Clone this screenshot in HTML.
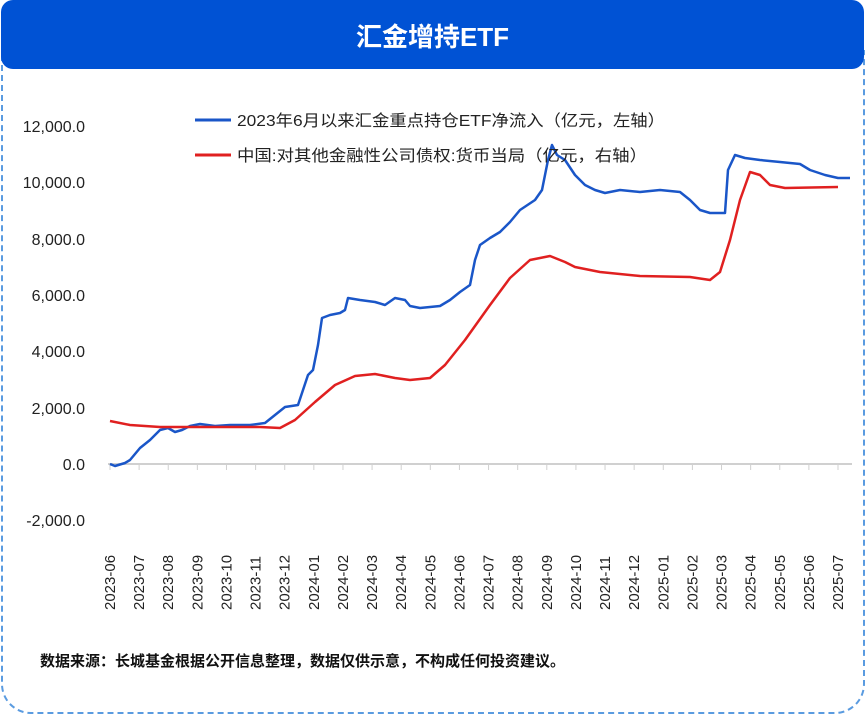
<!DOCTYPE html>
<html><head><meta charset="utf-8"><style>
body{margin:0;width:865px;height:718px;background:#fff;font-family:"Liberation Sans","Noto Sans CJK SC",sans-serif;position:relative;overflow:hidden}
.hdr{position:absolute;left:1px;top:0;width:863px;height:69px;background:#0052d4;border-radius:12px;color:#fff;font-size:26px;font-weight:bold;text-align:center;line-height:74px}
.box{position:absolute;left:1px;top:50px;width:860px;height:662px;border:2px dashed #5a9be0;border-top:none;border-radius:0 0 30px 30px}
</style></head><body>
<div class="box"></div>
<div class="hdr">汇金增持ETF</div>
<svg width="865" height="718" style="position:absolute;left:0;top:0" font-family="Liberation Sans, Noto Sans CJK SC, sans-serif">
<g font-size="16" fill="#222" text-anchor="end">
<text x="85" y="132">12,000.0</text><text x="85" y="188">10,000.0</text><text x="85" y="245">8,000.0</text><text x="85" y="301">6,000.0</text><text x="85" y="357">4,000.0</text><text x="85" y="414">2,000.0</text><text x="85" y="470">0.0</text><text x="85" y="526">-2,000.0</text>
</g>
<line x1="108" y1="464" x2="852" y2="464" stroke="#d0d0d0" stroke-width="2"/>
<g stroke="#d0d0d0" stroke-width="1" id="ticks"></g>
<g font-size="15" fill="#222" id="xl"></g>
<polyline fill="none" stroke="#1a56c8" stroke-width="2.5" stroke-linejoin="round" points="110,464 115,466 125,463 130,460 140,448 150,440 160,430 168,428 175,432 182,430 190,426 200,424 215,426 230,425 250,425 265,423 275,415 285,407 298,405 303,390 308,375 313,370 318,345 322,318 330,315 340,313 345,310 348,298 360,300 375,302 385,305 395,298 405,300 410,306 420,308 440,306 450,300 460,292 470,285 475,260 480,245 490,238 500,232 510,222 520,210 535,200 542,190 548,160 552,145 557,155 565,160 575,175 585,185 595,190 605,193 620,190 640,192 660,190 680,192 690,200 700,210 710,213 725,213 728,170 735,155 745,158 760,160 780,162 800,164 810,170 825,175 838,178 850,178"/>
<polyline fill="none" stroke="#e02020" stroke-width="2.5" stroke-linejoin="round" points="110,421 130,425 160,427 200,427 260,427 280,428 295,420 315,402 335,385 355,376 375,374 395,378 410,380 430,378 445,365 465,340 490,305 510,278 530,260 550,256 565,262 575,267 600,272 640,276 690,277 710,280 720,272 730,240 740,200 750,172 760,175 770,185 785,188 838,187"/>
<line x1="195" y1="120" x2="231" y2="120" stroke="#1a56c8" stroke-width="3"/>
<line x1="195" y1="155" x2="231" y2="155" stroke="#e02020" stroke-width="3"/>
<g font-size="16" fill="#222"><text x="237" y="126" textLength="428" lengthAdjust="spacingAndGlyphs">2023年6月以来汇金重点持仓ETF净流入（亿元，左轴）</text><text x="237" y="161" textLength="410" lengthAdjust="spacingAndGlyphs">中国:对其他金融性公司债权:货币当局（亿元，右轴）</text></g>
<text x="40" y="666" font-size="15" font-weight="bold" fill="#111">数据来源：长城基金根据公开信息整理，数据仅供示意，不构成任何投资建议。</text>
</svg>
<script>
var lab=[];for(var y=2023;y<=2025;y++)for(var m=1;m<=12;m++){if(y==2023&&m<6)continue;if(y==2025&&m>7)continue;lab.push(y+"-"+(m<10?"0"+m:m));}
var t=document.getElementById("ticks"),x=document.getElementById("xl"),ns="http://www.w3.org/2000/svg";
lab.forEach(function(s,i){var px=110+i*(728/25);var l=document.createElementNS(ns,"line");l.setAttribute("x1",px);l.setAttribute("x2",px);l.setAttribute("y1",464);l.setAttribute("y2",470);t.appendChild(l);
var e=document.createElementNS(ns,"text");e.setAttribute("transform","translate("+(px+5)+",610) rotate(-90)");e.textContent=s;x.appendChild(e);});
</script>
</body></html>
